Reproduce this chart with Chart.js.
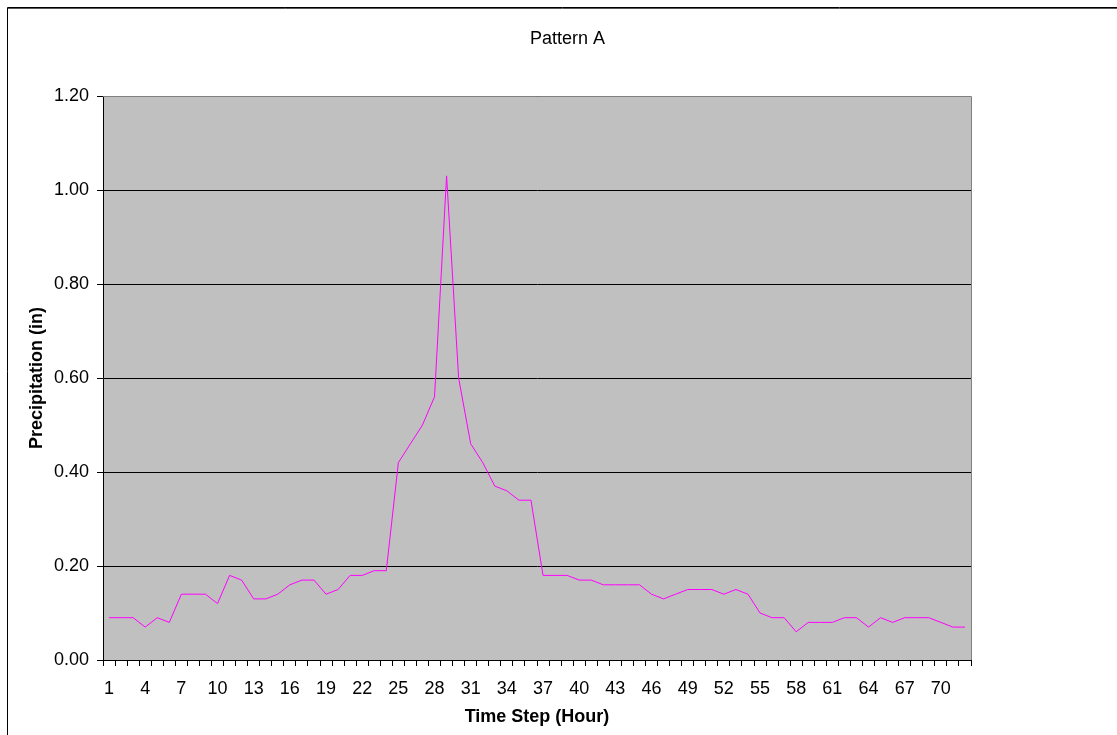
<!DOCTYPE html>
<html>
<head>
<meta charset="utf-8">
<script src="https://cdn.jsdelivr.net/npm/chart.js@4/dist/chart.umd.min.js"></script>
<style>
  html, body { margin: 0; padding: 0; background: #fff; }
  #wrap { width: 1117px; height: 735px; }
</style>
</head>
<body>
<div id="wrap"><canvas id="canvas"></canvas></div>
<script>
var hours = [];
for (var h = 1; h <= 72; h++) hours.push(String(h));

var precip = [
  0.09, 0.09, 0.09, 0.07, 0.09, 0.08, 0.14, 0.14, 0.14, 0.12,
  0.18, 0.17, 0.13, 0.13, 0.14, 0.16, 0.17, 0.17, 0.14, 0.15,
  0.18, 0.18, 0.19, 0.19, 0.42, 0.46, 0.50, 0.56, 1.03, 0.60,
  0.46, 0.42, 0.37, 0.36, 0.34, 0.34, 0.18, 0.18, 0.18, 0.17,
  0.17, 0.16, 0.16, 0.16, 0.16, 0.14, 0.13, 0.14, 0.15, 0.15,
  0.15, 0.14, 0.15, 0.14, 0.10, 0.09, 0.09, 0.06, 0.08, 0.08,
  0.08, 0.09, 0.09, 0.07, 0.09, 0.08, 0.09, 0.09, 0.09, 0.08,
  0.07, 0.07
];

var yTicks = [0, 0.2, 0.4, 0.6, 0.8, 1.0, 1.2];

var FONT = 'Liberation Sans, Arial, sans-serif';

// grey plot area, grey top/right edge, and the outer chart frame
var plotFrame = {
  id: 'plotFrame',
  beforeDraw: function(chart) {
    var ctx = chart.ctx, a = chart.chartArea;
    ctx.save();
    ctx.fillStyle = '#fff';
    ctx.fillRect(0, 0, chart.width, chart.height);
    ctx.fillStyle = '#C0C0C0';
    ctx.fillRect(a.left, a.top, a.right - a.left, a.bottom - a.top);
    ctx.restore();
  },
  beforeDatasetsDraw: function(chart) {
    var ctx = chart.ctx, a = chart.chartArea;
    ctx.save();
    ctx.strokeStyle = '#808080';
    ctx.lineWidth = 1;
    ctx.beginPath();
    ctx.moveTo(Math.round(a.left), Math.round(a.top) + 0.5);
    ctx.lineTo(Math.round(a.right) + 0.5, Math.round(a.top) + 0.5);
    ctx.lineTo(Math.round(a.right) + 0.5, Math.round(a.bottom));
    ctx.stroke();
    ctx.restore();
  },
  afterDraw: function(chart) {
    var ctx = chart.ctx;
    ctx.save();
    ctx.strokeStyle = '#000';
    ctx.lineWidth = 1;
    ctx.beginPath();
    ctx.moveTo(7.5, chart.height);
    ctx.lineTo(7.5, 7.5);
    ctx.lineTo(chart.width, 7.5);
    ctx.stroke();
    ctx.strokeStyle = '#555';
    ctx.beginPath();
    ctx.moveTo(8, 8.5);
    ctx.lineTo(chart.width, 8.5);
    ctx.stroke();
    ctx.restore();
  }
};

window.onload = function() {
  var ctx = document.getElementById('canvas').getContext('2d');
  window.myLine = new Chart(ctx, {
    type: 'line',
    data: {
      labels: hours,
      datasets: [{
        label: 'Precipitation',
        data: precip,
        borderColor: '#FF00FF',
        borderWidth: 1,
        pointRadius: 0,
        tension: 0,
        fill: false
      }]
    },
    plugins: [plotFrame],
    options: {
      responsive: true,
      maintainAspectRatio: false,
      animation: false,
      layout: { padding: { left: 18, right: 0, top: 0, bottom: 0 } },
      plugins: {
        legend: { display: false },
        tooltip: { enabled: false },
        title: {
          display: true,
          text: 'Pattern A',
          color: '#000',
          font: { family: FONT, size: 18, weight: 'normal' },
          padding: { top: 28, bottom: 46.4 }
        }
      },
      scales: {
        x: {
          type: 'category',
          offset: true,
          grid: {
            offset: true,
            drawOnChartArea: false,
            drawTicks: true,
            tickLength: 6,
            color: '#000'
          },
          border: { color: '#000', width: 1 },
          ticks: {
            autoSkip: false,
            maxRotation: 0,
            minRotation: 0,
            padding: 12,
            color: '#000',
            font: { family: FONT, size: 18 },
            callback: function(value, index) {
              return index % 3 === 0 ? hours[index] : '';
            }
          },
          title: {
            display: true,
            text: 'Time Step (Hour)',
            color: '#000',
            font: { family: FONT, size: 18, weight: 'bold' },
            padding: { top: 0, bottom: 7 }
          },
          afterFit: function(scale) { scale.height = 75; }
        },
        y: {
          min: 0,
          max: 1.2,
          grid: {
            color: '#000',
            lineWidth: 1,
            drawTicks: true,
            tickLength: 6
          },
          border: { color: '#000', width: 1 },
          afterBuildTicks: function(scale) {
            scale.ticks = yTicks.map(function(v) { return { value: v }; });
          },
          ticks: {
            padding: 8,
            color: '#000',
            font: { family: FONT, size: 18 },
            callback: function(value) { return Number(value).toFixed(2); }
          },
          title: {
            display: true,
            text: 'Precipitation (in)',
            color: '#000',
            font: { family: FONT, size: 18, weight: 'bold' },
            padding: { top: 8, bottom: 0 }
          },
          afterFit: function(scale) { scale.width = 85; }
        },
        yRight: {
          position: 'right',
          display: true,
          grid: { display: false },
          border: { display: false },
          ticks: { display: false },
          afterFit: function(scale) { scale.width = 146; }
        }
      }
    }
  });
};
</script>
</body>
</html>
